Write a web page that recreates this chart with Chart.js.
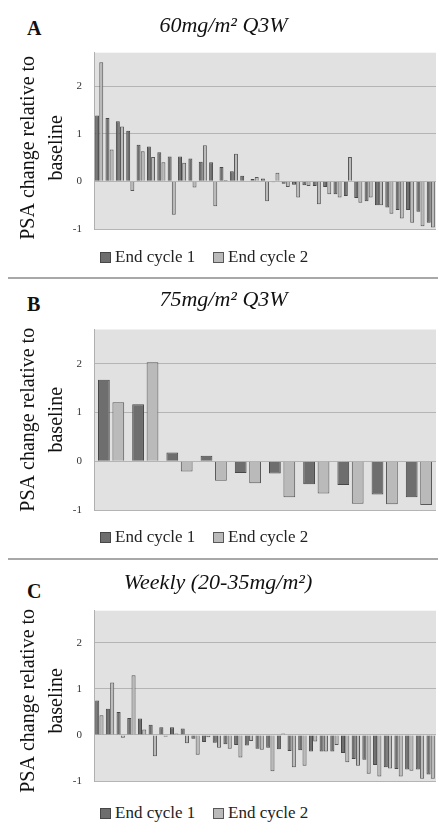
<!DOCTYPE html>
<html>
<head>
<meta charset="utf-8">
<script src="https://cdn.jsdelivr.net/npm/chart.js@4.4.1/dist/chart.umd.min.js"></script>
<style>
  html, body { margin: 0; padding: 0; background: #ffffff; }
  body { width: 439px; height: 822px; position: relative; overflow: hidden; font-family: 'Liberation Serif', 'Times New Roman', serif; }
  canvas { position: absolute; left: 0; }
  .letter { position: absolute; left: 27px; font-weight: bold; font-size: 20px; line-height: 24px; color: #111; }
  .sep { position: absolute; left: 8px; width: 430px; height: 0; border-top: 2px solid #a8a8a8; }
  .legend { position: absolute; font-size: 17px; line-height: 24px; color: #222; white-space: nowrap; z-index: 2; }
  .sw { display: inline-block; width: 9px; height: 9px; border: 1px solid #4a4a4a; vertical-align: -1px; margin-right: 4px; }
</style>
</head>
<body>
<div class="letter" style="top:16px">A</div>
<div class="letter" style="top:292px">B</div>
<div class="letter" style="top:579px">C</div>
<div class="sep" style="top:277px"></div>
<div class="sep" style="top:558px"></div>

<canvas id="cA" width="439" height="249" style="top:0px"></canvas>
<canvas id="cB" width="439" height="250" style="top:280px"></canvas>
<canvas id="cC" width="439" height="239" style="top:562px"></canvas>

<div id="legA"></div>
<div id="legB"></div>
<div id="legC"></div>

<script>
// ---------------- DATA ----------------
const SERIES_NAMES = ['End cycle 1', 'End cycle 2'];
const Y_TICKS = [-1, 0, 1, 2];
const Y_MIN = -1;
const Y_MAX = 2.7;
const Y_TITLE = ['PSA change relative to', 'baseline'];

const TITLE_A = '60mg/m² Q3W';
const TITLE_B = '75mg/m² Q3W';
const TITLE_C = 'Weekly (20-35mg/m²)';

const PATIENTS_A = ['1','2','3','4','5','6','7','8','9','10','11','12','13','14','15','16','17','18','19','20','21','22','23','24','25','26','27','28','29','30','31','32','33'];
const A_CYCLE1 = [1.38,1.33,1.26,1.06,0.77,0.73,0.61,0.52,0.52,0.48,0.41,0.40,0.30,0.21,0.12,0.05,0.06,-0.02,-0.05,-0.07,-0.08,-0.10,-0.12,-0.27,-0.31,-0.35,-0.42,-0.50,-0.55,-0.60,-0.60,-0.64,-0.87];
const A_CYCLE2 = [2.50,0.67,1.15,-0.20,0.63,0.51,0.40,-0.70,0.39,-0.13,0.76,-0.52,0.03,0.58,0.00,0.09,-0.42,0.18,-0.12,-0.34,-0.10,-0.48,-0.27,-0.34,0.51,-0.45,-0.34,-0.50,-0.68,-0.78,-0.87,-0.94,-0.97];

const PATIENTS_B = ['1','2','3','4','5','6','7','8','9','10'];
const B_CYCLE1 = [1.67,1.17,0.18,0.11,-0.24,-0.25,-0.47,-0.49,-0.68,-0.74];
const B_CYCLE2 = [1.21,2.03,-0.21,-0.40,-0.45,-0.74,-0.66,-0.87,-0.88,-0.90];

const PATIENTS_C = ['1','2','3','4','5','6','7','8','9','10','11','12','13','14','15','16','17','18','19','20','21','22','23','24','25','26','27','28','29','30','31','32'];
const C_CYCLE1 = [0.75,0.57,0.50,0.37,0.36,0.22,0.17,0.17,0.14,-0.08,-0.15,-0.17,-0.20,-0.22,-0.23,-0.30,-0.28,-0.31,-0.35,-0.33,-0.36,-0.36,-0.36,-0.39,-0.52,-0.54,-0.65,-0.70,-0.74,-0.75,-0.75,-0.86];
const C_CYCLE2 = [0.43,1.14,-0.06,1.30,0.12,-0.46,-0.04,0.03,-0.18,-0.43,-0.05,-0.28,-0.30,-0.49,-0.13,-0.32,-0.79,0.03,-0.70,-0.67,-0.14,-0.36,-0.22,-0.59,-0.67,-0.84,-0.90,-0.73,-0.90,-0.78,-0.95,-0.95];

// ---------------- STYLE ----------------
const SERIF = "'Liberation Serif', 'Times New Roman', serif";
const FILL = ['#6e6e6e', '#bababa'];
const EDGE = ['#474747', '#585858'];
const PLOT_BG = '#e1e1e1';
const GRID = '#b4b4b4';

const plotBg = {
  id: 'plotBg',
  beforeDraw(chart) {
    const a = chart.chartArea, ctx = chart.ctx;
    ctx.save();
    ctx.fillStyle = PLOT_BG;
    ctx.fillRect(a.left, a.top, a.right - a.left, a.bottom - a.top);
    ctx.restore();
  }
};

// Two-line rotated y-axis title, placed in the y-axis box and centred on the plot (with a small vertical shift)
const yTitle = {
  id: 'yTitle',
  afterDraw(chart, args, opts) {
    const a = chart.chartArea, ctx = chart.ctx, ys = chart.scales.y;
    const size = 20, lh = 28.25;
    ctx.save();
    ctx.fillStyle = '#111';
    ctx.font = size + "px " + SERIF;
    ctx.textAlign = 'center';
    ctx.textBaseline = 'middle';
    ctx.translate(opts.x, (a.top + a.bottom) / 2 + opts.shift);
    ctx.rotate(-Math.PI / 2);
    Y_TITLE.forEach((line, i) => ctx.fillText(line, 0, i * lh));
    ctx.restore();
  }
};

function makePanel(id, labels, c1, c2, title, cfg) {
  const axisW = 94 - cfg.padL;
  return new Chart(document.getElementById(id), {
    type: 'bar',
    data: {
      labels: labels,
      datasets: [
        { label: SERIES_NAMES[0], data: c1, backgroundColor: FILL[0], borderColor: EDGE[0], borderWidth: 1,
          categoryPercentage: cfg.cat, barPercentage: cfg.bar },
        { label: SERIES_NAMES[1], data: c2, backgroundColor: FILL[1], borderColor: EDGE[1], borderWidth: 1,
          categoryPercentage: cfg.cat, barPercentage: cfg.bar }
      ]
    },
    options: {
      responsive: false,
      animation: false,
      devicePixelRatio: 1,
      layout: { padding: { left: cfg.padL, right: 3, top: 0, bottom: 20 } },
      plugins: {
        legend: { display: false },
        tooltip: { enabled: false },
        title: {
          display: true, text: title, color: '#111',
          font: { family: SERIF, size: 22, style: 'italic', weight: 'normal', lineHeight: 1.2 },
          padding: { top: cfg.tTop, bottom: cfg.tBot }
        },
        yTitle: { x: 28.25, shift: cfg.yShift }
      },
      scales: {
        x: { display: false, offset: true, grid: { display: false } },
        y: {
          min: Y_MIN, max: Y_MAX,
          afterBuildTicks(scale) { scale.ticks = Y_TICKS.map(v => ({ value: v })); },
          afterFit(scale) { scale.width = axisW; },
          ticks: { color: '#333', padding: 12, font: { family: SERIF, size: 11 } },
          grid: { color: GRID, lineWidth: 1, drawTicks: false },
          border: { display: true, color: '#b0b0b0', width: 1 },
          title: { display: false }
        }
      }
    },
    plugins: [plotBg, yTitle]
  });
}

makePanel('cA', PATIENTS_A, A_CYCLE1, A_CYCLE2, TITLE_A, { padL: 11, tTop: 12.8, tBot: 13.5, cat: 0.8, bar: 0.95, yShift: 7 });
makePanel('cB', PATIENTS_B, B_CYCLE1, B_CYCLE2, TITLE_B, { padL: 11, tTop: 6.8, tBot: 16.3, cat: 0.843, bar: 0.816, yShift: 0 });
makePanel('cC', PATIENTS_C, C_CYCLE1, C_CYCLE2, TITLE_C, { padL: 0, tTop: 7.8, tBot: 14.5, cat: 0.8, bar: 0.95, yShift: 5 });

function makeLegend(id, centerY) {
  const el = document.getElementById(id);
  const xs = [100, 213];
  SERIES_NAMES.forEach((name, i) => {
    const d = document.createElement('div');
    d.className = 'legend';
    d.style.left = xs[i] + 'px';
    d.style.top = (centerY - 12) + 'px';
    const s = document.createElement('span');
    s.className = 'sw';
    s.style.background = FILL[i];
    s.style.borderColor = EDGE[i];
    d.appendChild(s);
    d.appendChild(document.createTextNode(name));
    el.appendChild(d);
  });
}
makeLegend('legA', 257);
makeLegend('legB', 537);
makeLegend('legC', 813);
</script>
</body>
</html>
